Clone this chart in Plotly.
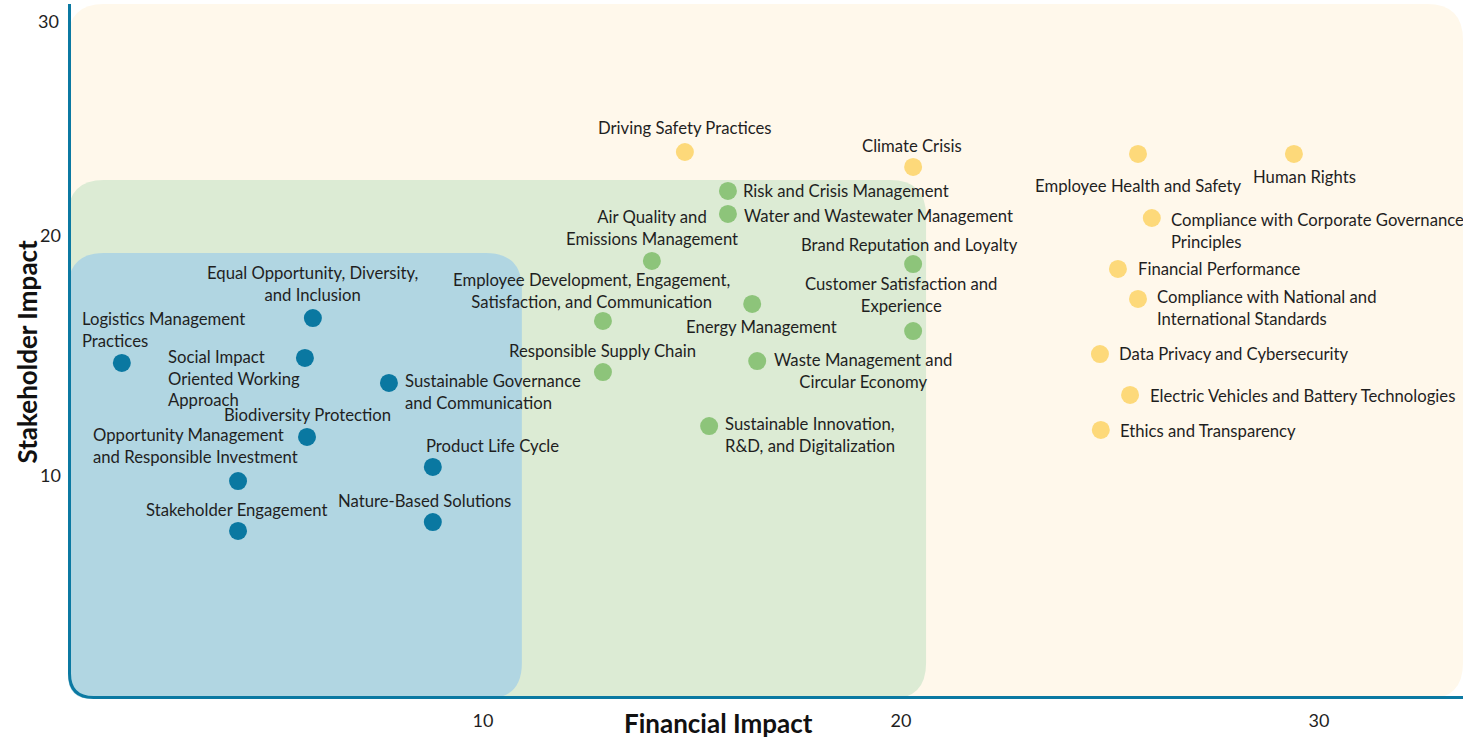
import plotly.graph_objects as go

# ---------------- data ----------------
blue_topics = [
    "Logistics Management<br>Practices",
    "Equal Opportunity, Diversity,<br>and Inclusion",
    "Social Impact<br>Oriented Working<br>Approach",
    "Sustainable Governance<br>and Communication",
    "Biodiversity Protection",
    "Opportunity Management<br>and Responsible Investment",
    "Product Life Cycle",
    "Stakeholder Engagement",
    "Nature-Based Solutions",
]
blue_financial = [1.36, 5.93, 5.74, 7.75, 5.79, 4.14, 8.80, 4.14, 8.80]
blue_stakeholder = [14.71, 16.58, 14.92, 13.88, 11.63, 9.79, 10.38, 7.71, 8.08]

green_topics = [
    "Risk and Crisis Management",
    "Water and Wastewater Management",
    "Air Quality and<br>Emissions Management",
    "Brand Reputation and Loyalty",
    "Employee Development, Engagement,<br>Satisfaction, and Communication",
    "Energy Management",
    "Customer Satisfaction and<br>Experience",
    "Responsible Supply Chain",
    "Waste Management and<br>Circular Economy",
    "Sustainable Innovation,<br>R&D, and Digitalization",
]
green_financial = [15.86, 15.86, 14.04, 20.29, 12.87, 16.44, 20.29, 12.87, 16.56, 15.41]
green_stakeholder = [21.88, 20.92, 18.96, 18.83, 16.46, 17.17, 16.04, 14.33, 14.79, 12.08]

yellow_topics = [
    "Driving Safety Practices",
    "Climate Crisis",
    "Employee Health and Safety",
    "Human Rights",
    "Compliance with Corporate Governance<br>Principles",
    "Financial Performance",
    "Compliance with National and<br>International Standards",
    "Data Privacy and Cybersecurity",
    "Electric Vehicles and Battery Technologies",
    "Ethics and Transparency",
]
yellow_financial = [14.83, 20.29, 25.67, 29.40, 26.00, 25.19, 25.67, 24.76, 25.48, 24.78]
yellow_stakeholder = [23.50, 22.88, 23.42, 23.42, 20.75, 18.63, 17.38, 15.08, 13.38, 11.92]

x_ticks = [10, 20, 30]
y_ticks = [10, 20]
y_top_label = "30"

# zones (financial / stakeholder upper bounds)
blue_zone = (10.93, 19.29)
green_zone = (20.60, 22.33)

# ---------------- styling ----------------
W, H = 1463, 741
ML, MR, MT, MB = 68, 0, 4, 42
X_RANGE = [0.072, 33.445]
Y_RANGE = [0.708, 29.667]
plot_w = W - ML - MR
plot_h = H - MT - MB
px_x = plot_w / (X_RANGE[1] - X_RANGE[0])
px_y = plot_h / (Y_RANGE[1] - Y_RANGE[0])

FONT = "Lato"
TXT = "#1f1f1f"
LABEL_SIZE = 16.7
TITLE_SIZE = 26
C_BLUE_DOT = "#0a78a1"
C_GREEN_DOT = "#8dc47a"
C_YELLOW_DOT = "#fdd97a"
C_CREAM = "#fff8eb"
C_GREEN_BG = "#dcebd4"
C_BLUE_BG = "#b1d6e2"
C_AXIS = "#0b79a2"

# label placement: (xanchor, yanchor, align, xshift, yshift)
blue_pos = [
    ("left", "bottom", "left", -41, 11),
    ("center", "bottom", "center", 0, 12),
    ("left", "top", "left", -138, 12),
    ("left", "top", "left", 15, 13),
    ("center", "bottom", "center", 0, 11),
    ("left", "bottom", "left", -146, 13),
    ("left", "bottom", "left", -8, 10),
    ("center", "bottom", "center", -2, 10),
    ("center", "bottom", "center", -8, 10),
]
green_pos = [
    ("left", "middle", "left", 14, 0),
    ("left", "middle", "left", 15, -2),
    ("center", "bottom", "center", 0, 11),
    ("center", "bottom", "center", -4, 8),
    ("center", "bottom", "center", -11, 8),
    ("center", "top", "center", 9, -12),
    ("center", "bottom", "center", -12, 14),
    ("center", "bottom", "center", 0, 10),
    ("left", "top", "center", 16, 12),
    ("left", "top", "left", 15, 13),
]
yellow_pos = [
    ("center", "bottom", "center", 0, 13),
    ("center", "bottom", "center", -1, 10),
    ("center", "top", "center", 0, -21),
    ("center", "top", "center", 11, -12),
    ("left", "top", "left", 18, 9),
    ("left", "middle", "left", 19, 0),
    ("left", "top", "left", 18, 13),
    ("left", "middle", "left", 18, 0),
    ("left", "middle", "left", 19, -1),
    ("left", "middle", "left", 18, -1),
]


def rounded_rect(x0, x1, y0, y1, r, r_bl=None):
    if r_bl is None:
        r_bl = r
    rx, ry = r / px_x, r / px_y
    bx, by = r_bl / px_x, r_bl / px_y
    return (
        f"M {x0 + bx},{y0} L {x1 - rx},{y0} Q {x1},{y0} {x1},{y0 + ry} "
        f"L {x1},{y1 - ry} Q {x1},{y1} {x1 - rx},{y1} "
        f"L {x0 + rx},{y1} Q {x0},{y1} {x0},{y1 - ry} "
        f"L {x0},{y0 + by} Q {x0},{y0} {x0 + bx},{y0} Z"
    )


fig = go.Figure()

groups = [
    (blue_topics, blue_financial, blue_stakeholder, C_BLUE_DOT, blue_pos),
    (green_topics, green_financial, green_stakeholder, C_GREEN_DOT, green_pos),
    (yellow_topics, yellow_financial, yellow_stakeholder, C_YELLOW_DOT, yellow_pos),
]

annotations = []
for topics, xs, ys, col, pos in groups:
    fig.add_trace(go.Scatter(
        x=xs, y=ys, mode="markers",
        marker=dict(size=18, color=col, line=dict(width=0)),
        text=topics, hoverinfo="text", showlegend=False, cliponaxis=False,
    ))
    for t, x, y, p in zip(topics, xs, ys, pos):
        xa, ya, al, xs_, ys_ = p
        annotations.append(dict(
            x=x, y=y, xref="x", yref="y", text=t, showarrow=False,
            xanchor=xa, yanchor=ya, align=al, xshift=xs_, yshift=ys_,
            borderpad=0, font=dict(family=FONT, size=LABEL_SIZE, color=TXT),
        ))

# axis titles and the clamped top y label
annotations.append(dict(
    x=0.4666, y=0, xref="paper", yref="paper", yshift=-7, yanchor="top",
    text="<b>Financial Impact</b>", showarrow=False, borderpad=0,
    font=dict(family=FONT, size=TITLE_SIZE, color="#111111"),
))
annotations.append(dict(
    x=0, y=0.5, xref="paper", yref="paper", xshift=-42, xanchor="center",
    text="<b>Stakeholder Impact</b>", showarrow=False, textangle=-90,
    font=dict(family=FONT, size=TITLE_SIZE, color="#111111"),
))
annotations.append(dict(
    x=0, y=1, xref="paper", yref="paper", xshift=-7, yshift=-4,
    xanchor="right", yanchor="top", text=y_top_label, showarrow=False,
    font=dict(family=FONT, size=18, color=TXT),
))

x0, x1 = X_RANGE
y0, y1 = Y_RANGE
shapes = [
    dict(type="path", xref="x", yref="y", layer="below", line=dict(width=0),
         fillcolor=C_CREAM, path=rounded_rect(x0, x1, y0, y1, 36)),
    dict(type="path", xref="x", yref="y", layer="below", line=dict(width=0),
         fillcolor=C_GREEN_BG, path=rounded_rect(x0, green_zone[0], y0, green_zone[1], 36)),
    dict(type="path", xref="x", yref="y", layer="below", line=dict(width=0),
         fillcolor=C_BLUE_BG, path=rounded_rect(x0, blue_zone[0], y0, blue_zone[1], 36, 24)),
]
# axis line with rounded corner
ax_x = x0 + 1.5 / px_x
ax_y = y0 + 1.5 / px_y
rr = 24
shapes.append(dict(
    type="path", xref="x", yref="y", layer="below",
    line=dict(color=C_AXIS, width=3),
    path=(f"M {ax_x},{y1} L {ax_x},{ax_y + rr / px_y} "
          f"Q {ax_x},{ax_y} {ax_x + rr / px_x},{ax_y} L {x1},{ax_y}"),
))

fig.update_layout(
    width=W, height=H, autosize=False,
    margin=dict(l=ML, r=MR, t=MT, b=MB),
    paper_bgcolor="white", plot_bgcolor="white",
    font=dict(family=FONT, color=TXT),
    shapes=shapes, annotations=annotations,
    xaxis=dict(range=X_RANGE, showgrid=False, zeroline=False, showline=False,
               tickvals=x_ticks, ticks="", ticklabelstandoff=9,
               tickfont=dict(family=FONT, size=18, color=TXT)),
    yaxis=dict(range=Y_RANGE, showgrid=False, zeroline=False, showline=False,
               tickvals=y_ticks, ticks="", ticklabelstandoff=6,
               tickfont=dict(family=FONT, size=18, color=TXT)),
)

fig.write_html(
    "out.html",
    config={"displayModeBar": False},
    post_script="document.body.style.margin='0';document.body.style.overflow='hidden';",
)
